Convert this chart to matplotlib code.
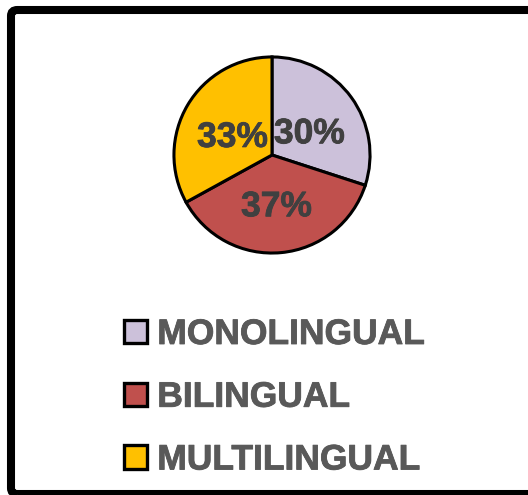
import matplotlib.pyplot as plt
import matplotlib.patheffects as pe
from matplotlib.patches import FancyBboxPatch

'''
pie of language profile: monolingual / bilingual / multilingual
'''
labels = ['MONOLINGUAL', 'BILINGUAL', 'MULTILINGUAL']
shares = [30, 37, 33]
colors = ['#CCC1DA', '#C0504D', '#FFC000']

W, H = 528, 495
fig = plt.figure(figsize=(W / 100, H / 100), dpi=100)
plt.rcParams['font.family'] = ['Liberation Sans', 'DejaVu Sans']

# pie axes: centre ~ (272,155) px, radius ~100 px
ax = fig.add_axes([172 / W, 1 - 255 / H, 200 / W, 200 / H])
wedges, texts, autotexts = ax.pie(shares, colors=colors, startangle=90, counterclock=False,
                                  autopct='%d%%', pctdistance=0.47,
                                  wedgeprops=dict(edgecolor='black', linewidth=2.2),
                                  textprops=dict(fontsize=25.5, fontweight='bold', color='#404040'))
for t in autotexts:
    x, y = t.get_position()
    t.set_position((x, y - 0.06))
    t.set_path_effects([pe.withStroke(linewidth=0.6, foreground='#404040')])
ax.set_xlim(-1.02, 1.02)
ax.set_ylim(-1.02, 1.02)
ax.set_aspect('equal')
ax.axis('off')

leg = fig.legend(wedges, labels, loc='upper left', bbox_to_anchor=(124 / W, 1 - 318 / H),
                 frameon=False, fontsize=25.5, handlelength=0.64, handleheight=0.64,
                 handletextpad=0.3, labelspacing=0.84, borderpad=0, borderaxespad=0)
for t in leg.get_texts():
    t.set_color('#595959')
    t.set_fontweight('bold')
    t.set_path_effects([pe.withStroke(linewidth=0.6, foreground='#595959')])
for h in leg.legend_handles:
    h.set_linewidth(2.4)
    h.set_edgecolor('black')

# thick outer frame (right edge runs off the picture)
frame = FancyBboxPatch((11 / W, 1 - 494 / H), 540 / W, 484 / H,
                       boxstyle='round,pad=0,rounding_size=0.012',
                       transform=fig.transFigure, facecolor='none',
                       edgecolor='black', linewidth=5.8, clip_on=False)
fig.add_artist(frame)

plt.savefig('out.png', dpi=100)
